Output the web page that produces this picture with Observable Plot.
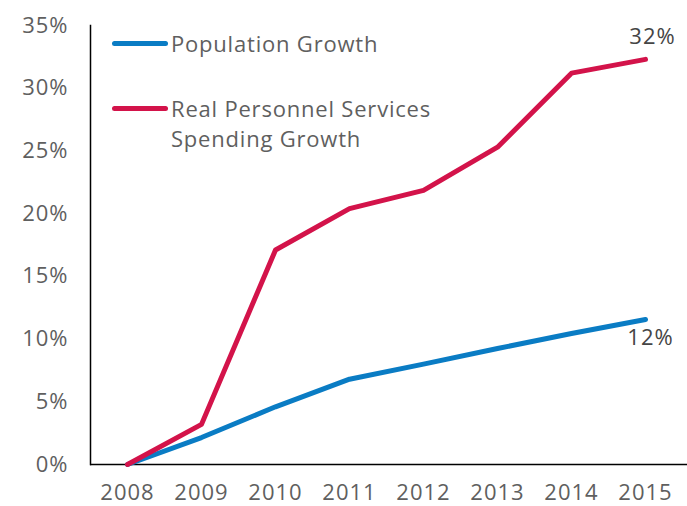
<!DOCTYPE html>
<html>
<head>
<meta charset="utf-8">
<script src="https://cdn.jsdelivr.net/npm/d3@7"></script>
<script src="https://cdn.jsdelivr.net/npm/@observablehq/plot@0.6"></script>
<style>
  html, body { margin: 0; padding: 0; background: #fff; }
  #wrap { position: relative; width: 687px; height: 506px; font-family: "Open Sans", sans-serif; }
  .leg { position: absolute; display: flex; align-items: flex-start; color: #5f5f5f; font-size: 22px; line-height: 30px; letter-spacing: 0.8px; }
  .sw { width: 56px; height: 5px; border-radius: 3px; margin-top: 13px; margin-right: 3px; }
</style>
</head>
<body>
<div id="wrap"></div>
<script>
const years = [2008, 2009, 2010, 2011, 2012, 2013, 2014, 2015];
const population = [0, 2.15, 4.6, 6.8, 8.0, 9.25, 10.45, 11.56];
const spending = [0, 3.2, 17.1, 20.4, 21.85, 25.3, 31.2, 32.3];
const seriesNames = ["Population Growth", "Real Personnel Services Spending Growth"];
const legendLines = [["Population Growth"], ["Real Personnel Services", "Spending Growth"]];
const colors = ["#0a7cc4", "#d3134a"];
const yTicks = [0, 5, 10, 15, 20, 25, 30, 35];

const data = [];
years.forEach((yr, i) => {
  data.push({year: yr, value: population[i], series: seriesNames[0]});
  data.push({year: yr, value: spending[i], series: seriesNames[1]});
});
const last = years.length - 1;

const plot = Plot.plot({
  width: 687,
  height: 506,
  marginLeft: 90,
  marginRight: 0,
  marginTop: 25,
  marginBottom: 42,
  style: {fontFamily: "Open Sans, sans-serif", fontSize: "22px", color: "#5f5f5f", background: "#fff", letterSpacing: "1px", overflow: "visible"},
  x: {domain: [2008, 2015], range: [127, 645]},
  y: {domain: [0, 35]},
  color: {domain: seriesNames, range: colors},
  marks: [
    Plot.axisY({ticks: yTicks, tickFormat: d => d + "%", tickSize: 0, tickPadding: 22, fill: "#5f5f5f", label: null}),
    Plot.axisX({ticks: years, tickFormat: d => String(d), tickSize: 0, tickPadding: 20, fill: "#5f5f5f", label: null}),
    Plot.frame({anchor: "left", stroke: "#000", strokeWidth: 1.5}),
    Plot.ruleY([0], {stroke: "#000", strokeWidth: 1.5}),
    Plot.line(data, {x: "year", y: "value", z: "series", stroke: "series", strokeWidth: 5, strokeLinecap: "round", strokeLinejoin: "round"}),
    Plot.text([{year: years[last], value: spending[last]}], {x: "year", y: "value", text: d => Math.round(d.value) + "%", dy: -22, dx: 7, fill: "#454545", fontSize: 22}),
    Plot.text([{year: years[last], value: population[last]}], {x: "year", y: "value", text: d => Math.round(d.value) + "%", dy: 18, dx: 5, fill: "#454545", fontSize: 22})
  ]
});

const wrap = document.getElementById("wrap");
wrap.appendChild(plot);

const legTops = [28, 93];
legendLines.forEach((lines, i) => {
  const el = document.createElement("div");
  el.className = "leg";
  el.style.left = "112px";
  el.style.top = legTops[i] + "px";
  const sw = document.createElement("div");
  sw.className = "sw";
  sw.style.background = colors[i];
  const tx = document.createElement("div");
  tx.innerHTML = lines.join("<br>");
  el.appendChild(sw);
  el.appendChild(tx);
  wrap.appendChild(el);
});
plot.style.position = "absolute";
plot.style.left = "0";
plot.style.top = "0";
</script>
</body>
</html>
